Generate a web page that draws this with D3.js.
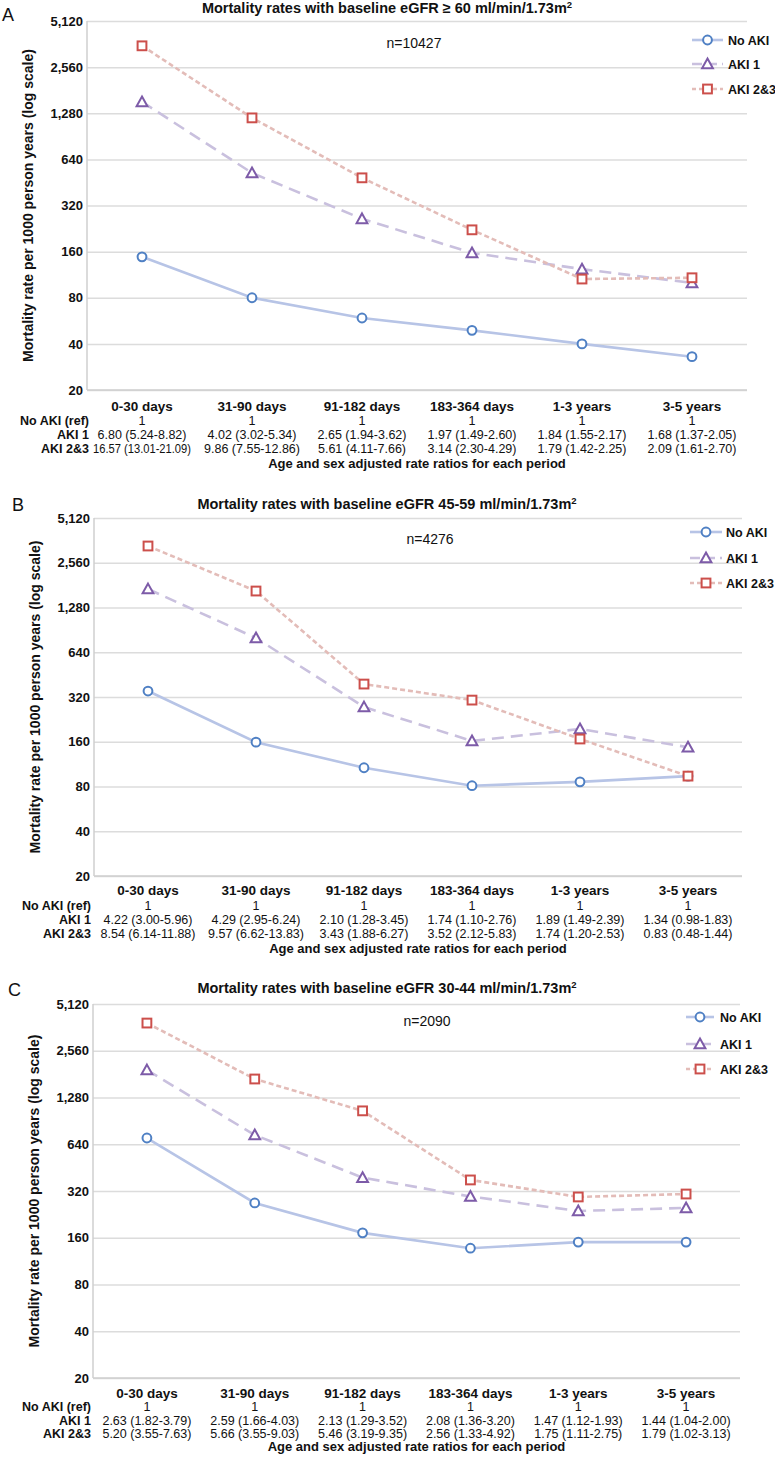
<!DOCTYPE html>
<html>
<head>
<meta charset="utf-8">
<script src="https://cdn.jsdelivr.net/npm/d3@7"></script>
<style>
  html, body { margin: 0; padding: 0; background: #fff; }
  svg { display: block; font-family: "Liberation Sans", Arial, sans-serif; }
</style>
</head>
<body>
<svg id="chart" width="775" height="1459"></svg>
<script>
// ---------- DATA ----------
const categories = ["0-30 days", "31-90 days", "91-182 days", "183-364 days", "1-3 years", "3-5 years"];
const yTicks = [20, 40, 80, 160, 320, 640, 1280, 2560, 5120];
const seriesNames = ["No AKI", "AKI 1", "AKI 2&3"];
const rowLabels = ["No AKI (ref)", "AKI 1", "AKI 2&3"];
const panelLetters = ["A", "B", "C"];
const panelTitles = [
  "Mortality rates with baseline eGFR \u2265 60 ml/min/1.73m",
  "Mortality rates with baseline eGFR 45-59 ml/min/1.73m",
  "Mortality rates with baseline eGFR 30-44 ml/min/1.73m"
];
const panelN = ["n=10427", "n=4276", "n=2090"];

// Panel A (eGFR >= 60)
const aNoAKI = [148, 80, 59, 49, 40, 33];
const aAKI1 = [1519, 522, 262, 157, 123, 100];
const aAKI23 = [3526, 1194, 485, 222, 106, 108];
const aRefRR = ["1", "1", "1", "1", "1", "1"];
const aAKI1RR = ["6.80 (5.24-8.82)", "4.02 (3.02-5.34)", "2.65 (1.94-3.62)", "1.97 (1.49-2.60)", "1.84 (1.55-2.17)", "1.68 (1.37-2.05)"];
const aAKI23RR = ["16.57 (13.01-21.09)", "9.86 (7.55-12.86)", "5.61 (4.11-7.66)", "3.14 (2.30-4.29)", "1.79 (1.42-2.25)", "2.09 (1.61-2.70)"];

// Panel B (eGFR 45-59)
const bNoAKI = [351, 159, 107, 81, 86, 94];
const bAKI1 = [1704, 798, 274, 162, 195, 147];
const bAKI23 = [3318, 1652, 391, 305, 167, 94];
const bRefRR = ["1", "1", "1", "1", "1", "1"];
const bAKI1RR = ["4.22 (3.00-5.96)", "4.29 (2.95-6.24)", "2.10 (1.28-3.45)", "1.74 (1.10-2.76)", "1.89 (1.49-2.39)", "1.34 (0.98-1.83)"];
const bAKI23RR = ["8.54 (6.14-11.88)", "9.57 (6.62-13.83)", "3.43 (1.88-6.27)", "3.52 (2.12-5.83)", "1.74 (1.20-2.53)", "0.83 (0.48-1.44)"];

// Panel C (eGFR 30-44)
const cNoAKI = [702, 268, 172, 137, 150, 150];
const cAKI1 = [1924, 734, 390, 295, 238, 249];
const cAKI23 = [3860, 1684, 1050, 377, 293, 306];
const cRefRR = ["1", "1", "1", "1", "1", "1"];
const cAKI1RR = ["2.63 (1.82-3.79)", "2.59 (1.66-4.03)", "2.13 (1.29-3.52)", "2.08 (1.36-3.20)", "1.47 (1.12-1.93)", "1.44 (1.04-2.00)"];
const cAKI23RR = ["5.20 (3.55-7.63)", "5.66 (3.55-9.03)", "5.46 (3.19-9.35)", "2.56 (1.33-4.92)", "1.75 (1.11-2.75)", "1.79 (1.02-3.13)"];

const footerText = "Age and sex adjusted rate ratios for each period";
const yAxisTitle = "Mortality rate per 1000 person years (log scale)";

// ---------- LAYOUT / STYLE ----------
const panels = [
  { series: [aNoAKI, aAKI1, aAKI23], rr: [aRefRR, aAKI1RR, aAKI23RR],
    top: 21, bottom: 390, left: 87, right: 747, titleY: 13, letter: [2, 21],
    nPos: [414, 48], legend: { x1: 692, x2: 723, tx: 728, ys: [40, 64, 89] },
    tableY: [411, 425, 439, 453, 468], rowLabelX: 89 },
  { series: [bNoAKI, bAKI1, bAKI23], rr: [bRefRR, bAKI1RR, bAKI23RR],
    top: 518, bottom: 876, left: 94, right: 742, titleY: 509, letter: [12, 511],
    nPos: [430, 544], legend: { x1: 690, x2: 722, tx: 726, ys: [532, 558, 583] },
    tableY: [895, 910, 924, 938, 953], rowLabelX: 91 },
  { series: [cNoAKI, cAKI1, cAKI23], rr: [cRefRR, cAKI1RR, cAKI23RR],
    top: 1004, bottom: 1378, left: 93, right: 740, titleY: 993, letter: [8, 996],
    nPos: [427, 1026], legend: { x1: 686, x2: 714, tx: 720, ys: [1017, 1044, 1069] },
    tableY: [1398, 1411, 1425, 1438, 1451], rowLabelX: 91 }
];

const lineColors = ["#b7c4e6", "#c9c0de", "#e3bcb8"];
const markerColors = ["#4f80c4", "#7d5ba8", "#cc4f4b"];
const dashes = [null, "12,7", "5,3"];
const markerTypes = ["circle", "triangle", "square"];

const svg = d3.select("#chart");

function drawMarker(g, type, x, y, color) {
  if (type === "circle") {
    g.append("circle").attr("cx", x).attr("cy", y).attr("r", 4.4)
      .attr("fill", "#fff").attr("stroke", color).attr("stroke-width", 2);
  } else if (type === "triangle") {
    const s = 5.4;
    g.append("path")
      .attr("d", `M${x},${y - s}L${x + s},${y + s * 0.8}L${x - s},${y + s * 0.8}Z`)
      .attr("fill", "#fff").attr("stroke", color).attr("stroke-width", 2);
  } else {
    const s = 4.4;
    g.append("rect").attr("x", x - s).attr("y", y - s).attr("width", 2 * s).attr("height", 2 * s)
      .attr("fill", "#fff").attr("stroke", color).attr("stroke-width", 2);
  }
}

panels.forEach((p, pi) => {
  const g = svg.append("g");
  const x = d3.scalePoint().domain(categories).range([p.left, p.right]).padding(0.5);
  const y = d3.scaleLog().base(2).domain([20, 5120]).range([p.bottom, p.top]);

  // gridlines + y tick labels
  const yAxis = d3.axisLeft(y).tickValues(yTicks).tickFormat(d3.format(","))
    .tickSize(-(p.right - p.left)).tickPadding(4);
  const ya = g.append("g").attr("transform", `translate(${p.left},0)`).call(yAxis);
  ya.select(".domain").remove();
  ya.selectAll(".tick line").attr("stroke", "#dcdcdc").attr("stroke-width", 1.5);
  ya.selectAll(".tick text").attr("font-size", 13).attr("font-weight", "bold")
    .attr("fill", "#111").attr("x", -4)
    .attr("font-family", "'Liberation Sans', Arial, sans-serif");
  // left / bottom axis lines
  g.append("line").attr("x1", p.left).attr("x2", p.left).attr("y1", p.top).attr("y2", p.bottom)
    .attr("stroke", "#cfcfcf").attr("stroke-width", 1.5);
  g.append("line").attr("x1", p.left).attr("x2", p.right).attr("y1", p.bottom).attr("y2", p.bottom)
    .attr("stroke", "#cfcfcf").attr("stroke-width", 1.5);

  // title
  const t = g.append("text").attr("x", 387).attr("y", p.titleY).attr("text-anchor", "middle")
    .attr("font-size", 14.5).attr("font-weight", "bold").attr("fill", "#111").text(panelTitles[pi]);
  t.append("tspan").attr("font-size", 9.5).attr("dy", -5).text("2");

  // panel letter
  g.append("text").attr("x", p.letter[0]).attr("y", p.letter[1]).attr("font-size", 18)
    .attr("fill", "#111").text(panelLetters[pi]);

  // y axis title
  const cy = (p.top + p.bottom) / 2;
  g.append("text").attr("transform", `translate(${p.left - 54},${cy}) rotate(-90)`)
    .attr("text-anchor", "middle").attr("font-size", 14).attr("font-weight", "bold")
    .attr("fill", "#111").text(yAxisTitle);

  // n=
  g.append("text").attr("x", p.nPos[0]).attr("y", p.nPos[1]).attr("text-anchor", "middle")
    .attr("font-size", 14).attr("fill", "#111").text(panelN[pi]);

  // lines
  const line = d3.line().x((d, i) => x(categories[i])).y(d => y(d));
  p.series.forEach((s, si) => {
    g.append("path").datum(s).attr("d", line).attr("fill", "none")
      .attr("stroke", lineColors[si]).attr("stroke-width", 2.6)
      .attr("stroke-dasharray", dashes[si]);
  });
  p.series.forEach((s, si) => {
    s.forEach((v, i) => drawMarker(g, markerTypes[si], x(categories[i]), y(v), markerColors[si]));
  });

  // legend
  seriesNames.forEach((name, si) => {
    const ly = p.legend.ys[si];
    g.append("line").attr("x1", p.legend.x1).attr("x2", p.legend.x2).attr("y1", ly).attr("y2", ly)
      .attr("stroke", lineColors[si]).attr("stroke-width", 2.6)
      .attr("stroke-dasharray", si === 0 ? null : (si === 1 ? "10,5" : "4,3"));
    drawMarker(g, markerTypes[si], (p.legend.x1 + p.legend.x2) / 2, ly, markerColors[si]);
    g.append("text").attr("x", p.legend.tx).attr("y", ly + 4.5).attr("font-size", 12.5)
      .attr("font-weight", "bold").attr("fill", "#111").text(name);
  });

  // table: category labels
  categories.forEach(c => {
    g.append("text").attr("x", x(c)).attr("y", p.tableY[0]).attr("text-anchor", "middle")
      .attr("font-size", 13.5).attr("font-weight", "bold").attr("fill", "#111").text(c);
  });
  rowLabels.forEach((rl, ri) => {
    g.append("text").attr("x", p.rowLabelX).attr("y", p.tableY[ri + 1]).attr("text-anchor", "end")
      .attr("font-size", 12.5).attr("font-weight", "bold").attr("fill", "#111").text(rl);
    p.rr[ri].forEach((val, ci) => {
      const tx = g.append("text").attr("x", x(categories[ci])).attr("y", p.tableY[ri + 1])
        .attr("text-anchor", "middle").attr("font-size", 12.5).attr("fill", "#111").text(val);
      const w = tx.node().getComputedTextLength();
      if (w > 100) tx.attr("font-size", 12).attr("textLength", 98).attr("lengthAdjust", "spacingAndGlyphs");
    });
  });
  g.append("text").attr("x", (p.left + p.right) / 2).attr("y", p.tableY[4]).attr("text-anchor", "middle")
    .attr("font-size", 13).attr("font-weight", "bold").attr("fill", "#111").text(footerText);
});
</script>
</body>
</html>
